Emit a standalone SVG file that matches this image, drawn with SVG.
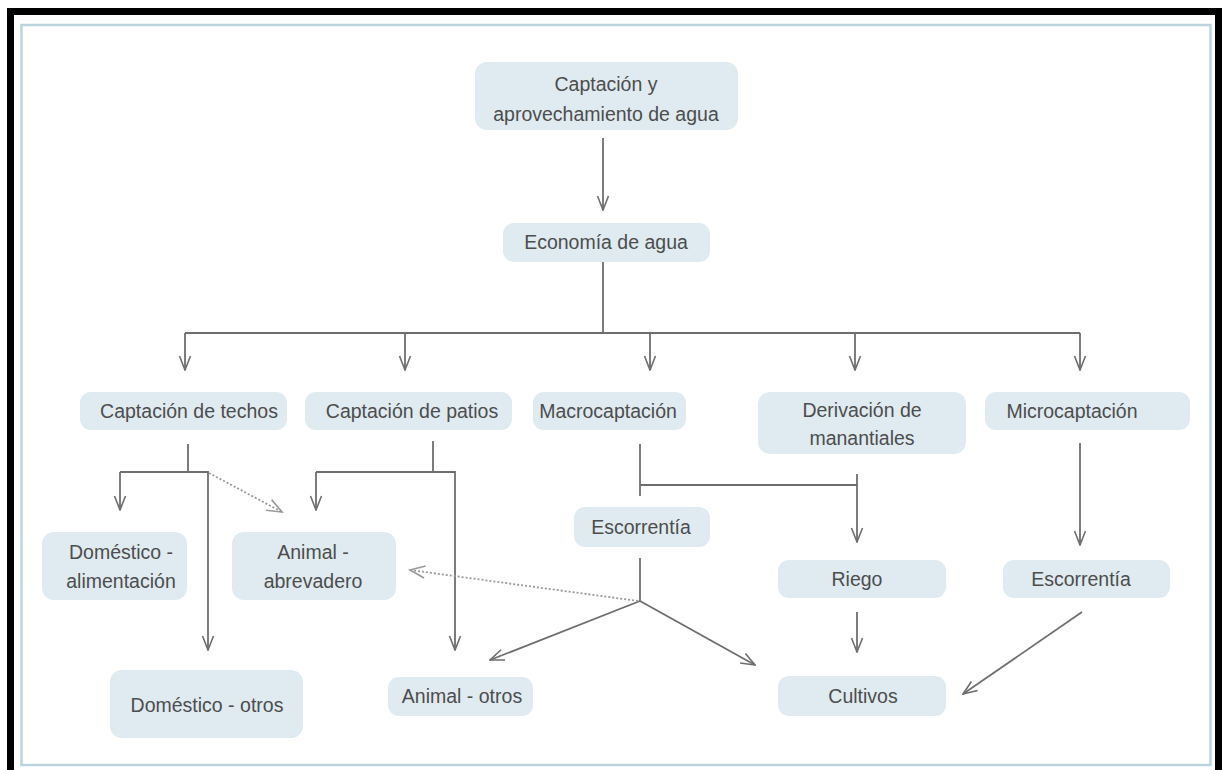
<svg xmlns="http://www.w3.org/2000/svg" width="1222" height="770" viewBox="0 0 1222 770">
<style>
.box{fill:#dfebf1;}
.t{font-family:"Liberation Sans",Arial,sans-serif;font-size:19.5px;fill:#4d4d4d;text-anchor:middle;}
.c{fill:none;stroke:#6e6e6e;stroke-width:1.8;}
.d{fill:none;stroke:#9a9a9a;stroke-width:1.8;stroke-dasharray:2 2;}
</style>
<defs>
<marker id="ar" viewBox="0 0 16 14" refX="15" refY="7" markerWidth="16" markerHeight="14" markerUnits="userSpaceOnUse" orient="auto">
<path d="M1,1.5 L15,7 L1,12.5" fill="none" stroke="#6e6e6e" stroke-width="1.6"/>
</marker>
<marker id="ard" viewBox="0 0 18 16" refX="16" refY="8" markerWidth="18" markerHeight="16" markerUnits="userSpaceOnUse" orient="auto">
<path d="M1,2 L16,8 L1,14" fill="none" stroke="#9a9a9a" stroke-width="1.6"/>
</marker>
</defs>
<rect x="0" y="0" width="1222" height="770" fill="#ffffff"/>
<rect x="10.5" y="11.5" width="1208" height="780" fill="none" stroke="#000" stroke-width="7"/>
<rect x="21.5" y="25" width="1189" height="740" fill="none" stroke="#bcd5dd" stroke-width="2.5"/>

<g id="connectors">
<line class="c" x1="603" y1="138" x2="603" y2="210" marker-end="url(#ar)"/>
<line class="c" x1="603" y1="262" x2="603" y2="333"/>
<line class="c" x1="185" y1="333" x2="1080" y2="333"/>
<line class="c" x1="185" y1="333" x2="185" y2="370" marker-end="url(#ar)"/>
<line class="c" x1="405" y1="333" x2="405" y2="370" marker-end="url(#ar)"/>
<line class="c" x1="650" y1="333" x2="650" y2="370" marker-end="url(#ar)"/>
<line class="c" x1="855" y1="333" x2="855" y2="370" marker-end="url(#ar)"/>
<line class="c" x1="1080" y1="333" x2="1080" y2="370" marker-end="url(#ar)"/>
<!-- techos -->
<line class="c" x1="188" y1="444" x2="188" y2="472"/>
<polyline class="c" points="120,472 208,472 208,650" marker-end="url(#ar)"/>
<line class="c" x1="120" y1="472" x2="120" y2="510" marker-end="url(#ar)"/>
<line class="d" x1="209" y1="473" x2="282" y2="512" marker-end="url(#ard)"/>
<!-- patios -->
<line class="c" x1="433" y1="441" x2="433" y2="472"/>
<polyline class="c" points="316,472 455,472 455,650" marker-end="url(#ar)"/>
<line class="c" x1="316" y1="472" x2="316" y2="510" marker-end="url(#ar)"/>
<!-- macro -->
<line class="c" x1="640" y1="444" x2="640" y2="496"/>
<line class="c" x1="640" y1="485" x2="857" y2="485"/>
<line class="c" x1="857" y1="474" x2="857" y2="542" marker-end="url(#ar)"/>
<!-- escorrentia mid -->
<line class="c" x1="640" y1="558" x2="640" y2="601"/>
<line class="c" x1="640" y1="601" x2="490" y2="660" marker-end="url(#ar)"/>
<line class="c" x1="640" y1="601" x2="755" y2="665" marker-end="url(#ar)"/>
<line class="d" x1="638" y1="601" x2="410" y2="570" marker-end="url(#ard)"/>
<!-- micro -->
<line class="c" x1="1080" y1="443" x2="1080" y2="545" marker-end="url(#ar)"/>
<!-- riego -->
<line class="c" x1="857" y1="612" x2="857" y2="652" marker-end="url(#ar)"/>
<line class="c" x1="1082" y1="612" x2="963" y2="694" marker-end="url(#ar)"/>
</g>

<g id="n-captacion"><rect class="box" x="475" y="62" width="263" height="68" rx="12"/><text class="t" x="606" y="91">Captación y</text><text class="t" x="606" y="121">aprovechamiento de agua</text></g>
<g id="n-economia"><rect class="box" x="503" y="223" width="207" height="39" rx="11"/><text class="t" x="606" y="249">Economía de agua</text></g>
<g id="n-techos"><rect class="box" x="80" y="392" width="207" height="38" rx="11"/><text class="t" x="189" y="418">Captación de techos</text></g>
<g id="n-patios"><rect class="box" x="305" y="392" width="207" height="38" rx="11"/><text class="t" x="412" y="418">Captación de patios</text></g>
<g id="n-macro"><rect class="box" x="533" y="392" width="153" height="38" rx="11"/><text class="t" x="608" y="418">Macrocaptación</text></g>
<g id="n-derivacion"><rect class="box" x="758" y="392" width="208" height="62" rx="12"/><text class="t" x="862" y="417">Derivación de</text><text class="t" x="862" y="445">manantiales</text></g>
<g id="n-micro"><rect class="box" x="985" y="392" width="205" height="38" rx="11"/><text class="t" x="1072" y="418">Microcaptación</text></g>
<g id="n-dom-alim"><rect class="box" x="42" y="532" width="145" height="68" rx="12"/><text class="t" x="121" y="559">Doméstico -</text><text class="t" x="121" y="588">alimentación</text></g>
<g id="n-animal-abrev"><rect class="box" x="232" y="532" width="164" height="68" rx="12"/><text class="t" x="313" y="559">Animal -</text><text class="t" x="313" y="588">abrevadero</text></g>
<g id="n-dom-otros"><rect class="box" x="110" y="670" width="193" height="68" rx="12"/><text class="t" x="207" y="712">Doméstico - otros</text></g>
<g id="n-escorrentia1"><rect class="box" x="574" y="507" width="136" height="40" rx="11"/><text class="t" x="641" y="534">Escorrentía</text></g>
<g id="n-animal-otros"><rect class="box" x="388" y="677" width="145" height="39" rx="11"/><text class="t" x="462" y="703">Animal - otros</text></g>
<g id="n-riego"><rect class="box" x="778" y="560" width="168" height="38" rx="11"/><text class="t" x="857" y="586">Riego</text></g>
<g id="n-escorrentia2"><rect class="box" x="1003" y="560" width="167" height="38" rx="11"/><text class="t" x="1081" y="586">Escorrentía</text></g>
<g id="n-cultivos"><rect class="box" x="778" y="676" width="168" height="40" rx="11"/><text class="t" x="863" y="703">Cultivos</text></g>
</svg>
